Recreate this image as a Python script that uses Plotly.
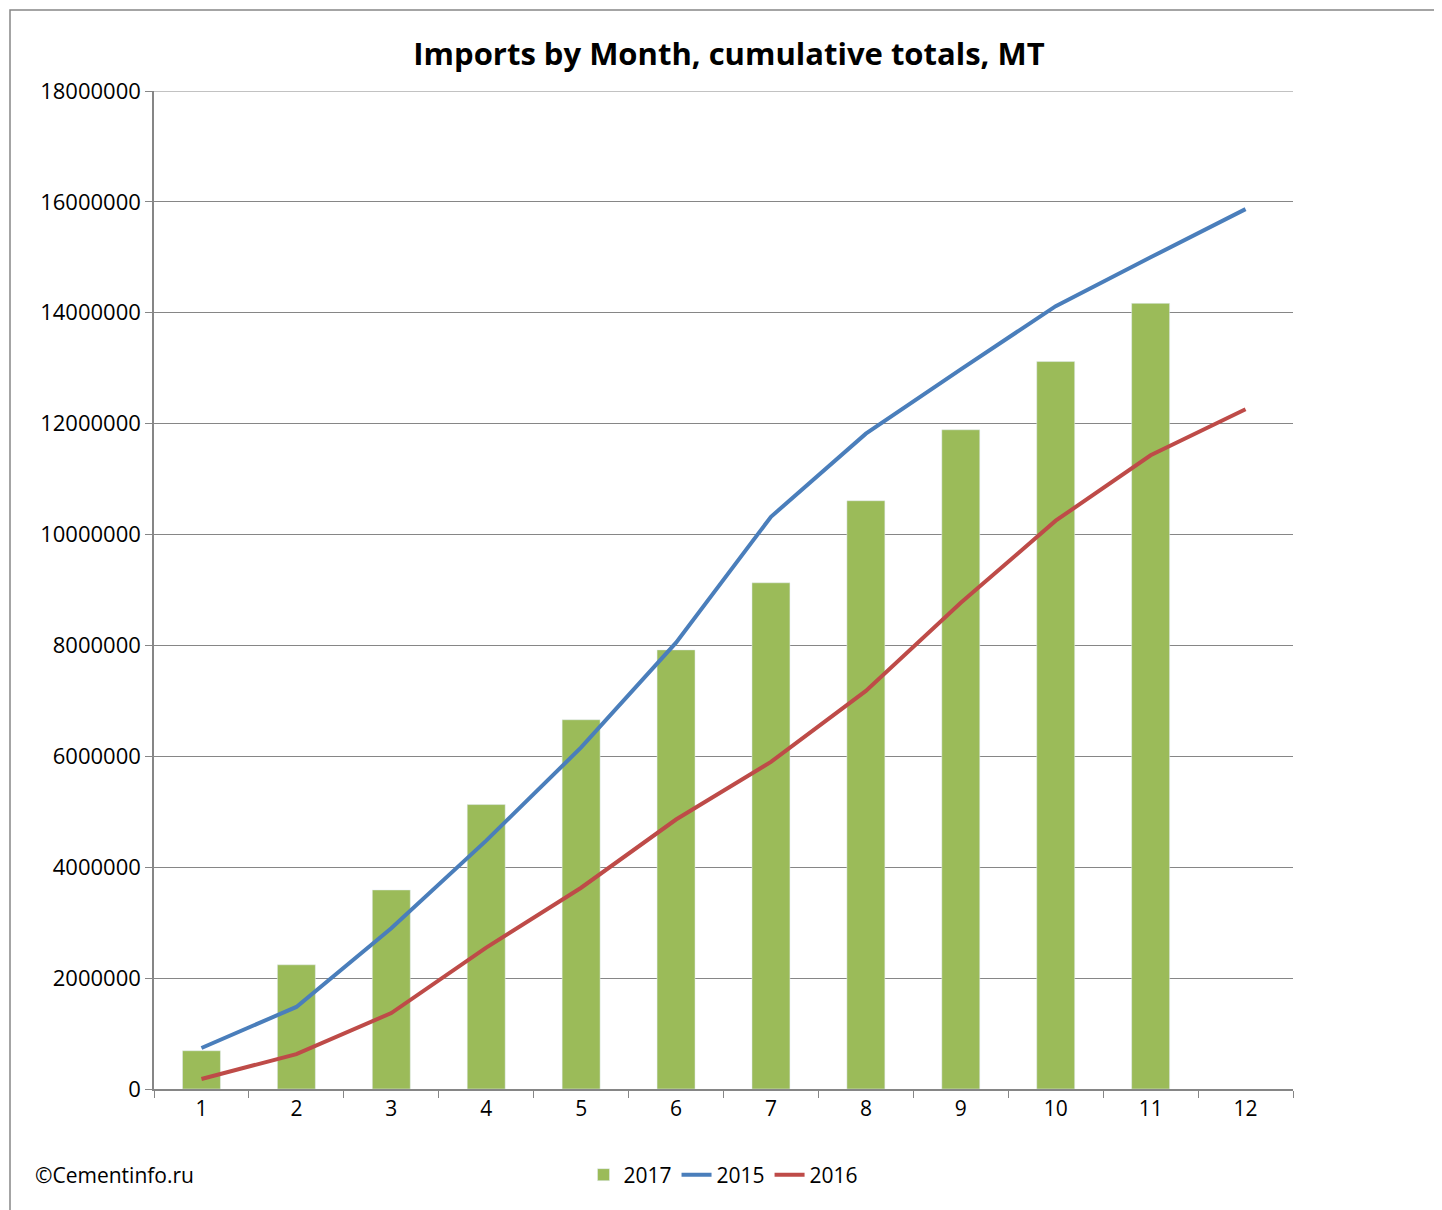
import plotly.graph_objects as go

months = [str(m) for m in range(1, 13)]
imports_2017 = [690000, 2240000, 3590000, 5130000, 6660000, 7920000, 9130000,
                10610000, 11890000, 13120000, 14170000, None]
imports_2015 = [740000, 1480000, 2900000, 4480000, 6160000, 8050000, 10320000,
                11820000, 12980000, 14120000, 15000000, 15870000]
imports_2016 = [180000, 630000, 1370000, 2550000, 3630000, 4860000, 5900000,
                7180000, 8770000, 10250000, 11430000, 12260000]

W, H = 1442, 1210
L, R, T, B = 146, 157, 83, 129
pw, ph = W - L - R, H - T - B

fig = go.Figure()
fig.add_trace(go.Bar(x=months, y=imports_2017, name='2017',
                     marker_color='#9bbb59', width=0.4))
fig.add_trace(go.Scatter(x=months, y=imports_2015, name='2015', mode='lines',
                         line=dict(color='#4a7ebb', width=4)))
fig.add_trace(go.Scatter(x=months, y=imports_2016, name='2016', mode='lines',
                         line=dict(color='#be4b48', width=4)))

fig.update_layout(
    width=W, height=H,
    margin=dict(l=L, r=R, t=T, b=B),
    paper_bgcolor='white', plot_bgcolor='white',
    font=dict(family='Open Sans, Liberation Sans, sans-serif', size=21, color='black'),
    title=dict(text='<b>Imports by Month, cumulative totals, MT</b>',
               x=0.5, xanchor='center', y=1 - 46 / H, yanchor='middle',
               font=dict(size=31)),
    legend=dict(orientation='h', x=0.5, xanchor='center', y=-86 / ph,
                yanchor='middle', font=dict(size=21)),
    bargap=0.6,
)
fig.update_xaxes(type='category', tickson='boundaries', ticks='outside',
                 ticklen=7, tickcolor='#868686', showline=True,
                 linecolor='#868686', linewidth=1.5, showgrid=False)
fig.update_yaxes(range=[0, 18000000], dtick=2000000, tickformat='d',
                 tickfont=dict(size=22),
                 showgrid=True, gridcolor='#868686', gridwidth=1.2,
                 showline=True, linecolor='#868686', linewidth=1.5,
                 ticks='outside', ticklen=7, tickcolor='#868686', zeroline=False)

fig.add_shape(type='line', xref='paper', yref='y', x0=0, x1=1,
              y0=18000000, y1=18000000, line=dict(color='#868686', width=1.2))
fig.add_annotation(text='©Cementinfo.ru', xref='paper', yref='paper',
                   x=-121 / pw, y=-86 / ph, xanchor='left', yanchor='middle',
                   showarrow=False, font=dict(size=21))
fig.add_shape(type='rect', xref='paper', yref='paper',
              x0=-(L - 2) / pw, x1=1 + (R - 12) / pw,
              y0=-(B - 4) / ph, y1=1 + (T - 2) / ph,
              line=dict(color='#868686', width=1.5))

fig.write_html('out.html')
